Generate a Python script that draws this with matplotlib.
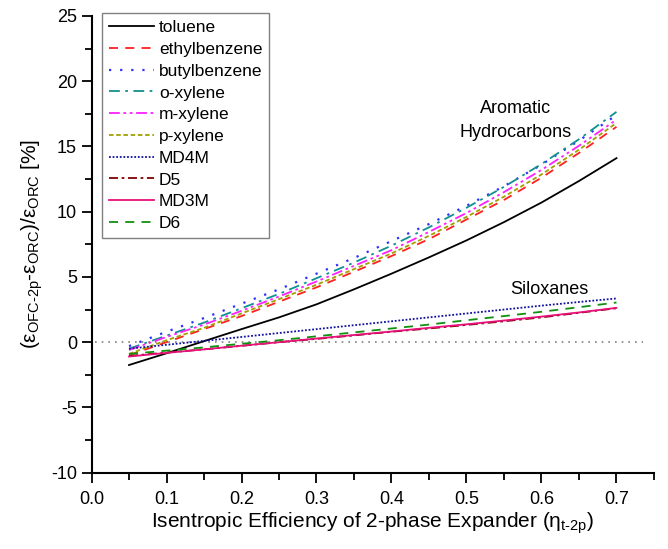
import matplotlib
matplotlib.use("Agg")
import matplotlib.pyplot as plt
from matplotlib.ticker import MultipleLocator

plt.rcParams['font.family'] = 'Liberation Sans'
plt.rcParams['mathtext.fontset'] = 'custom'
plt.rcParams['mathtext.rm'] = 'Liberation Sans'
plt.rcParams['mathtext.it'] = 'Liberation Sans:italic'
plt.rcParams['axes.unicode_minus'] = False

eta = [0.05, 0.10, 0.15, 0.20, 0.25, 0.30, 0.35, 0.40, 0.45, 0.50, 0.55, 0.60, 0.65, 0.70]

toluene = [-1.75, -0.85, 0.08, 1.0, 1.9, 2.9, 4.05, 5.25, 6.5, 7.8, 9.2, 10.7, 12.35, 14.1]
ethylbenzene = [-1.0, 0.0, 1.0, 2.0, 3.1, 4.2, 5.4, 6.6, 7.9, 9.4, 10.9, 12.6, 14.5, 16.5]
butylbenzene = [-0.3, 0.8, 1.85, 2.95, 4.05, 5.25, 6.45, 7.75, 9.05, 10.45, 11.95, 13.6, 15.45, 17.4]
o_xylene = [-0.5, 0.5, 1.5, 2.6, 3.7, 4.9, 6.1, 7.4, 8.8, 10.3, 11.9, 13.65, 15.55, 17.65]
m_xylene = [-0.6, 0.4, 1.35, 2.4, 3.5, 4.65, 5.85, 7.05, 8.45, 9.9, 11.5, 13.2, 15.05, 17.05]
p_xylene = [-0.9, 0.15, 1.1, 2.2, 3.3, 4.4, 5.6, 6.8, 8.15, 9.6, 11.15, 12.85, 14.75, 16.8]
MD4M = [-0.5, -0.2, 0.1, 0.4, 0.7, 1.0, 1.3, 1.6, 1.9, 2.2, 2.5, 2.8, 3.08, 3.35]
D5 = [-1.05, -0.8, -0.55, -0.28, 0.0, 0.25, 0.52, 0.8, 1.05, 1.32, 1.6, 1.9, 2.25, 2.6]
MD3M = [-1.1, -0.82, -0.55, -0.27, 0.0, 0.28, 0.55, 0.82, 1.1, 1.37, 1.66, 1.96, 2.28, 2.63]
D6 = [-0.9, -0.65, -0.4, -0.12, 0.15, 0.45, 0.75, 1.05, 1.35, 1.68, 2.0, 2.33, 2.68, 3.04]

fig = plt.figure(figsize=(6.68, 5.49), dpi=100)
ax = fig.add_axes([0.137, 0.139, 0.842, 0.832])

ax.plot([0.005, 0.735], [0, 0], color='gray', ls=(0, (1, 3)), lw=1.2)

lw = 1.3
ax.plot(eta, toluene, color='black', ls='-', lw=lw, label='toluene')
ax.plot(eta, ethylbenzene, color='#ff2020', ls=(0, (5, 4)), lw=lw, label='ethylbenzene')
ax.plot(eta, butylbenzene, color='#3030ff', ls=(0, (1, 4)), lw=1.6, label='butylbenzene')
ax.plot(eta, o_xylene, color='#109090', ls=(0, (6, 3, 1.5, 3)), lw=lw, label='o-xylene')
ax.plot(eta, m_xylene, color='#ff20ff', ls=(0, (6, 2, 1.5, 2, 1.5, 2)), lw=lw, label='m-xylene')
ax.plot(eta, p_xylene, color='#a0a000', ls=(0, (2.5, 1.5)), lw=lw, label='p-xylene')
ax.plot(eta, MD4M, color='#1010a0', ls=(0, (1, 1)), lw=lw, label='MD4M')
ax.plot(eta, D5, color='#800000', ls=(0, (5, 2, 1.5, 2)), lw=lw, label='D5')
ax.plot(eta, MD3M, color='#e8107a', ls='-', lw=lw, label='MD3M')
ax.plot(eta, D6, color='#109010', ls=(0, (5, 4)), lw=lw, label='D6')

ax.set_xlim(0, 0.75)
ax.set_ylim(-10, 25)
ax.xaxis.set_major_locator(MultipleLocator(0.1))
ax.xaxis.set_minor_locator(MultipleLocator(0.05))
ax.yaxis.set_major_locator(MultipleLocator(5))
ax.yaxis.set_minor_locator(MultipleLocator(2.5))
ax.xaxis.set_major_formatter(plt.FormatStrFormatter('%.1f'))
ax.spines['top'].set_visible(False)
ax.spines['right'].set_visible(False)
ax.spines['left'].set_linewidth(1.5)
ax.spines['bottom'].set_linewidth(1.5)
ax.tick_params(which='major', direction='out', width=1.3, length=7, labelsize=13)
ax.tick_params(which='minor', direction='out', width=1.3, length=5)
ax.tick_params(axis='x', pad=6)

ax.set_xlabel(r'Isentropic Efficiency of 2-phase Expander ($\mathregular{\eta_{t\text{-}2p}}$)',
              fontsize=15, labelpad=2)
ax.set_ylabel(r'(ε$_{\mathregular{OFC\text{-}2p}}$-ε$_{\mathregular{ORC}}$)/ε$_{\mathregular{ORC}}$ [%]',
              fontsize=15, labelpad=4)

ax.text(0.566, 17.0, 'Aromatic\nHydrocarbons', ha='center', va='center', fontsize=13,
        linespacing=1.5)
ax.text(0.611, 4.0, 'Siloxanes', ha='center', va='center', fontsize=13)

leg = ax.legend(loc='upper left', bbox_to_anchor=(0.018, 1.006), borderaxespad=0,
                fontsize=12.5, handlelength=2.6, handletextpad=0.3, labelspacing=0.38,
                borderpad=0.4, fancybox=False, edgecolor='gray', framealpha=1)
leg.get_frame().set_linewidth(1.0)

fig.savefig('out.png', dpi=100)
